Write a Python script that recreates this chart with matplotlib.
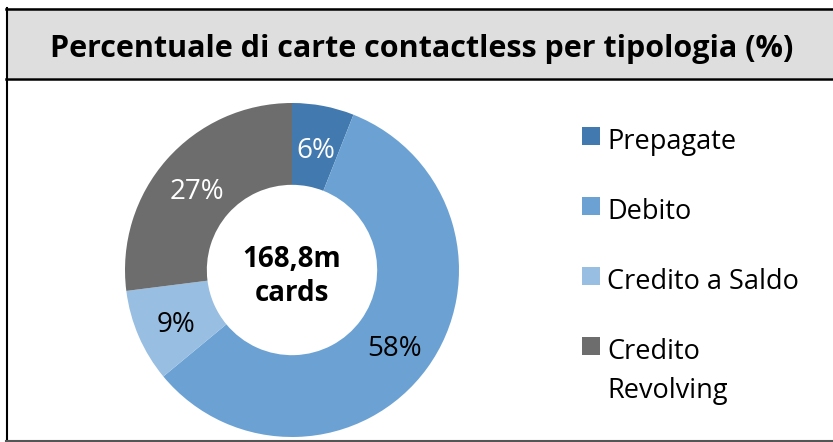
import matplotlib
matplotlib.use('Agg')
import matplotlib.pyplot as plt
from matplotlib.patches import Rectangle
from matplotlib.lines import Line2D

plt.rcParams['font.family'] = ['Open Sans', 'DejaVu Sans']

title = 'Percentuale di carte contactless per tipologia (%)'
labels = ['Prepagate', 'Debito', 'Credito a Saldo', 'Credito\nRevolving']
values = [6, 58, 9, 27]
colors = ['#4279AE', '#6CA2D3', '#98BEE2', '#6D6D6D']
label_colors = ['white', 'black', 'black', 'white']
center_text = '168,8m\ncards'

W, H = 833, 442
fig = plt.figure(figsize=(W / 100, H / 100), dpi=100)
fig.patch.set_facecolor('white')

def fx(px):
    return px / W

def fy(py):
    return 1 - py / H

# title band and frame
fig.add_artist(Rectangle((fx(7), fy(78)), fx(W) - fx(7), fy(8) - fy(78),
                         transform=fig.transFigure, facecolor='#DEDEDE', edgecolor='none'))
fig.add_artist(Line2D([fx(6), 1], [fy(8.5), fy(8.5)], transform=fig.transFigure, color='black', lw=1.8))
fig.add_artist(Line2D([fx(6), 1], [fy(78.5), fy(78.5)], transform=fig.transFigure, color='black', lw=1.8))
fig.add_artist(Line2D([fx(6.5), fx(6.5)], [fy(8), fy(441)], transform=fig.transFigure, color='black', lw=1.5))
fig.add_artist(Line2D([fx(6), 1], [fy(440.5), fy(440.5)], transform=fig.transFigure, color='#555555', lw=1.5))

fig.text(fx(422), fy(57), title, ha='center', va='baseline', fontsize=22, fontweight='bold')

# donut: center (292, 270), outer r 167
cx, cy, r = 292, 270, 167
ax = fig.add_axes([fx(cx - r), fy(cy + r), fx(2 * r), fy(cy - r) - fy(cy + r)])
wedges, texts, autotexts = ax.pie(values, colors=colors, startangle=90, counterclock=False,
                                  radius=1, wedgeprops={'width': 0.49, 'linewidth': 0},
                                  autopct='%d%%', pctdistance=0.755,
                                  textprops={'fontsize': 20})
for t, c in zip(autotexts, label_colors):
    t.set_color(c)
    x0, y0 = t.get_position()
    t.set_position((x0, y0 - 0.03))
ax.set_xlim(-1, 1)
ax.set_ylim(-1, 1)
ax.set_aspect('equal')
ax.axis('off')
ax.text(0, -0.04, center_text, ha='center', va='center', fontsize=20,
        fontweight='bold', linespacing=1.2)

# legend
leg_base = [149, 219, 289, 359]
for lab, c, yy in zip(labels, colors, leg_base):
    fig.add_artist(Rectangle((fx(582), fy(yy - 4)), fx(18), fy(0) - fy(18),
                             transform=fig.transFigure, facecolor=c, edgecolor='none'))
    fig.text(fx(607), fy(yy), lab.split('\n')[0], ha='left', va='baseline', fontsize=19.5)
    if '\n' in lab:
        fig.text(fx(607), fy(yy + 39), lab.split('\n')[1], ha='left', va='baseline', fontsize=19.5)

fig.savefig('out.png', dpi=100)
